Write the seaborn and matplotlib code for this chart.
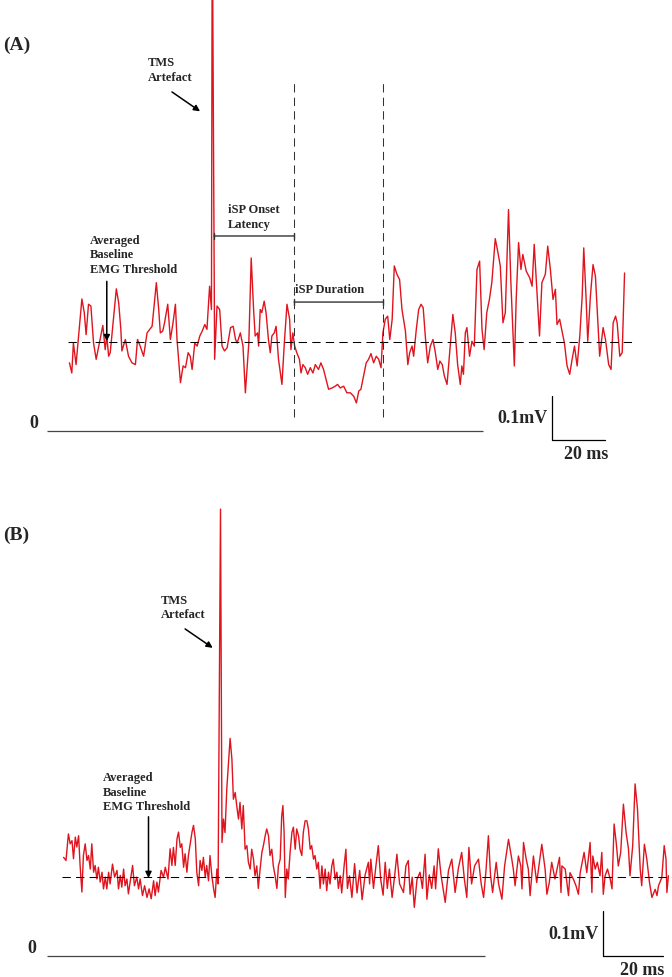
import numpy as np
import pandas as pd
import seaborn as sns
import matplotlib.pyplot as plt

# ---- Panel A: EMG trace vertices (time from TMS pulse in ms, amplitude in uV) ----
a_time = [-54.2, -53.3, -52.7, -51.7, -49.5, -48.6, -47.9, -47.0, -46.1, -45.1,
          -44.1, -41.6, -40.7, -40.1, -39.4, -38.8, -36.5, -35.6, -34.8, -34.4,
          -33.1, -31.9, -30.6, -29.3, -28.5, -27.5, -26.2, -24.9, -23.0, -21.4,
          -20.5, -19.9, -19.0, -18.3, -17.1, -16.1, -15.1, -14.2, -13.6, -12.3,
          -11.3, -10.4, -9.4, -8.6, -7.9, -6.9, -6.0, -5.0, -4.1, -3.1,
          -2.3, -1.3, -0.6, -0.3, 0.6, 1.5, 2.5, 3.4, 4.3, 5.3,
          6.6, 7.6, 8.5, 9.1, 10.3, 11.3, 12.2, 13.5, 14.4, 15.3,
          15.9, 16.8, 17.2, 17.8, 18.4, 19.3, 20.0, 20.9, 21.6, 22.2,
          23.1, 23.8, 24.7, 26.0, 26.9, 27.9, 28.9, 29.4, 30.1, 30.8,
          31.6, 32.6, 33.2, 33.9, 34.8, 35.7, 36.7, 37.7, 38.6, 39.8,
          40.7, 41.7, 43.6, 44.9, 46.1, 47.0, 48.0, 49.3, 50.5, 51.8,
          53.1, 54.1, 55.0, 55.8, 56.8, 57.8, 58.7, 59.6, 60.6, 61.6,
          62.5, 63.4, 64.1, 65.0, 65.9, 66.7, 67.6, 68.4, 69.4, 70.4,
          71.3, 72.6, 73.5, 74.2, 75.1, 75.7, 76.7, 77.6, 78.5, 79.3,
          80.2, 81.0, 82.0, 83.0, 83.9, 84.8, 85.6, 86.5, 87.3, 88.3,
          89.2, 90.5, 91.4, 92.3, 93.3, 93.9, 94.5, 95.2, 95.8, 96.8,
          97.7, 98.6, 99.6, 100.6, 101.5, 102.3, 103.3, 104.3, 105.2, 106.5,
          107.4, 108.4, 109.4, 110.3, 111.5, 112.4, 113.7, 114.4, 115.3, 116.2,
          116.9, 118.2, 119.5, 120.4, 121.2, 122.2, 123.2, 124.1, 125.4, 126.3,
          127.3, 128.3, 129.2, 129.8, 130.8, 131.7, 132.6, 133.6, 134.6, 135.5,
          136.4, 137.4, 138.4, 139.3, 139.9, 140.8, 141.4, 142.4, 143.4, 144.3,
          144.9, 145.9, 147.2, 148.1, 149.3, 150.2, 151.0, 151.9, 152.5, 153.5,
          154.4, 155.3]
a_amp = [155, 132, 200, 151, 300, 269, 219, 288, 284, 200,
         163, 240, 185, 216, 170, 178, 323, 291, 231, 182,
         208, 170, 155, 151, 208, 193, 170, 223, 238, 337,
         276, 223, 227, 246, 288, 208, 246, 288, 208, 110,
         148, 144, 178, 170, 140, 200, 193, 216, 227, 242,
         231, 329, 276, 1200, 163, 284, 276, 193, 182, 189,
         235, 238, 208, 200, 223, 193, 87, 200, 393, 276,
         216, 223, 193, 276, 269, 295, 269, 208, 178, 216,
         223, 238, 163, 106, 200, 288, 254, 185, 223, 193,
         178, 163, 132, 151, 144, 129, 144, 132, 151, 140,
         155, 140, 95, 98, 102, 106, 98, 102, 87, 87,
         79, 64, 91, 95, 125, 155, 163, 176, 155, 170,
         163, 144, 223, 254, 261, 208, 254, 375, 356, 344,
         276, 227, 151, 178, 193, 170, 231, 276, 288, 280,
         208, 155, 193, 208, 178, 140, 159, 151, 125, 106,
         170, 265, 223, 151, 106, 148, 129, 223, 235, 170,
         204, 193, 367, 386, 231, 185, 269, 299, 337, 437,
         409, 375, 246, 269, 503, 337, 148, 299, 428, 367,
         401, 363, 348, 329, 424, 322, 216, 337, 356, 420,
         367, 299, 322, 242, 254, 227, 200, 148, 129, 163,
         193, 148, 216, 306, 416, 299, 204, 306, 378, 352,
         284, 170, 235, 208, 151, 140, 246, 261, 246, 170,
         178, 359]
a_baseline = 202          # averaged baseline EMG threshold, uV
a_isp_onset = 30.6        # ms after TMS
a_isp_end = 64.2

# ---- Panel B ----
b_time = [-51.5, -50.7, -49.9, -49.3, -48.7, -48.2, -47.6, -47.1, -46.5, -46.0,
          -45.4, -44.9, -44.3, -43.7, -43.2, -42.6, -42.1, -41.5, -41.0, -40.4,
          -39.9, -39.3, -38.7, -38.2, -37.6, -37.1, -36.5, -36.0, -35.2, -34.5,
          -33.7, -33.2, -32.6, -32.1, -31.5, -31.0, -30.4, -29.9, -29.0, -28.5,
          -27.9, -27.1, -26.5, -26.0, -25.2, -24.5, -23.7, -23.0, -22.3, -21.5,
          -21.0, -20.4, -19.9, -19.0, -18.2, -17.6, -16.7, -16.0, -15.4, -14.9,
          -14.3, -13.7, -13.2, -12.6, -12.1, -11.5, -11.0, -10.4, -9.9, -9.3,
          -8.7, -8.2, -7.6, -7.1, -6.5, -6.0, -5.4, -4.9, -4.3, -3.8,
          -3.2, -2.7, -2.1, -1.5, -1.0, -0.4, 0.0, 0.8, 1.3, 1.8,
          2.3, 2.9, 3.4, 4.0, 4.6, 5.1, 5.7, 6.2, 6.8, 7.3,
          7.9, 8.4, 9.0, 9.6, 10.1, 10.7, 11.2, 11.8, 12.3, 12.9,
          13.4, 14.0, 14.6, 15.1, 15.7, 16.2, 16.8, 17.3, 17.9, 18.4,
          19.0, 19.6, 20.1, 20.7, 21.2, 21.6, 22.0, 22.4, 22.9, 23.4,
          24.0, 24.6, 25.1, 25.7, 26.2, 26.8, 27.3, 27.9, 28.4, 29.0,
          29.6, 30.1, 30.7, 31.2, 31.8, 32.3, 32.9, 33.4, 34.0, 34.6,
          35.1, 35.7, 36.2, 36.8, 37.3, 37.9, 38.4, 39.0, 39.6, 40.1,
          40.7, 41.2, 42.0, 42.6, 43.1, 43.8, 44.6, 45.5, 46.3, 47.2,
          48.0, 49.0, 50.1, 50.5, 50.9, 51.8, 52.6, 53.4, 54.2, 55.0,
          55.7, 56.4, 57.1, 58.0, 58.8, 59.6, 60.5, 61.8, 62.6, 63.4,
          64.0, 64.7, 65.4, 66.3, 67.3, 68.1, 69.0, 69.6, 70.4, 71.2,
          72.0, 72.5, 73.4, 74.3, 75.7, 76.8, 77.9, 79.0, 80.1, 81.2,
          82.1, 82.9, 83.6, 84.5, 85.5, 86.8, 87.7, 88.5, 89.3, 90.1,
          90.8, 91.5, 92.7, 93.5, 94.6, 95.5, 96.8, 97.9, 98.4, 99.0,
          100.1, 100.9, 101.3, 101.8, 102.7, 103.4, 104.0, 105.1, 106.2, 107.9,
          109.0, 109.6, 110.4, 111.2, 112.3, 113.8, 114.3, 114.6, 115.7, 116.8,
          117.3, 118.4, 119.3, 120.1, 120.7, 122.0, 122.9, 124.0, 124.6, 124.9,
          125.7, 126.4, 127.3, 127.9, 128.4, 129.0, 129.8, 130.7, 131.3, 132.0,
          132.7, 133.4, 134.2, 135.1, 136.0, 136.8, 137.3, 138.2, 139.0, 139.8,
          140.7, 141.2, 142.1, 142.9, 143.8, 144.6, 145.7, 146.3, 146.8, 147.9,
          148.7, 149.3, 149.6, 150.1]
b_amp = [219, 212, 271, 249, 256, 216, 264, 242, 267, 201,
         142, 223, 249, 212, 223, 193, 249, 186, 201, 171,
         197, 164, 186, 149, 175, 149, 186, 160, 204, 175,
         190, 149, 179, 153, 193, 156, 171, 138, 179, 201,
         156, 175, 149, 171, 134, 156, 130, 149, 127, 167,
         134, 164, 142, 190, 175, 197, 171, 238, 201, 241,
         201, 260, 275, 241, 249, 197, 227, 186, 223, 249,
         275, 290, 260, 186, 156, 212, 190, 219, 175, 201,
         167, 223, 179, 149, 130, 193, 160, 992, 252, 304,
         274, 371, 422, 483, 437, 348, 363, 334, 304, 341,
         282, 334, 237, 245, 208, 193, 237, 215, 178, 200,
         150, 193, 230, 245, 267, 282, 267, 223, 237, 200,
         178, 150, 200, 215, 311, 334, 274, 130, 193, 171,
         230, 274, 286, 237, 282, 267, 237, 223, 274, 300,
         300, 282, 237, 245, 215, 223, 193, 208, 150, 200,
         160, 193, 145, 186, 160, 200, 215, 170, 186, 150,
         178, 140, 200, 237, 150, 178, 130, 205, 140, 190,
         125, 180, 208, 160, 215, 150, 200, 245, 170, 135,
         208, 150, 193, 130, 175, 226, 160, 141, 200, 212,
         137, 175, 108, 170, 186, 150, 226, 126, 180, 150,
         200, 149, 238, 180, 119, 190, 215, 141, 195, 230,
         170, 130, 241, 160, 200, 215, 160, 130, 190, 267,
         180, 141, 208, 160, 126, 200, 259, 215, 193, 156,
         222, 200, 149, 252, 215, 193, 134, 222, 163, 248,
         193, 137, 163, 208, 171, 219, 141, 200, 193, 134,
         185, 171, 156, 137, 185, 230, 185, 252, 141, 222,
         193, 208, 178, 230, 137, 178, 193, 171, 149, 293,
         252, 200, 230, 337, 274, 237, 178, 245, 382, 326,
         193, 156, 248, 215, 163, 130, 148, 134, 156, 174,
         245, 215, 141, 178]
b_baseline = 175

trace_a = pd.DataFrame({"time": a_time, "amp": a_amp})
trace_b = pd.DataFrame({"time": b_time, "amp": b_amp})

sns.set_theme(style="white")
plt.rcParams["font.family"] = ["Liberation Serif", "DejaVu Serif"]
plt.rcParams["font.weight"] = "bold"

RED = "#e0141e"
DASH = (0, (8, 5))
fs = 9
LS = 1.3

fig = plt.figure(figsize=(6.72, 9.78), dpi=100)
axA = fig.add_axes([0, 1 - 470 / 978, 1, 470 / 978])
axB = fig.add_axes([0, 0, 1, 508 / 978])


def draw_panel(ax, df, base, base_span, zero_span, bar_x, bar_y):
    sns.lineplot(data=df, x="time", y="amp", ax=ax, color=RED, lw=1.0,
                 estimator=None, sort=False)
    ax.hlines(base, *base_span, colors="black", linestyles=DASH, lw=0.75)
    ax.hlines(0, *zero_span, colors="#444444", lw=0.9)
    # scale bar: 0.1 mV x 20 ms
    ax.plot([bar_x, bar_x, bar_x + 20], [bar_y + 100, bar_y, bar_y],
            color="black", lw=0.9)
    ax.text(bar_x - 1.5, bar_y + 50, "0.1mV", ha="right", va="center", fontsize=13)
    ax.text(bar_x + 13, bar_y - 12, "20 ms", ha="center", va="top", fontsize=13)
    ax.text(zero_span[0] - 3.5, 0, "0", ha="right", va="bottom", fontsize=13)
    ax.set_xlabel("")
    ax.set_ylabel("")
    ax.axis("off")


arrow = dict(arrowstyle="-|>", color="black", lw=1.1, mutation_scale=9,
             shrinkA=0, shrinkB=0)
bracket = dict(arrowstyle="|-|, widthA=0.2, widthB=0.2", color="#333333",
               lw=1, shrinkA=0, shrinkB=0)

# Panel A
axA.set_xlim(-80.4, 173.2)
axA.set_ylim(-86, 981)
draw_panel(axA, trace_a, a_baseline, (-54.7, 159.6), (-62.6, 101.9), 127.9, -20)
axA.text(-79.2, 878, "(A)", ha="left", va="center", fontsize=14)
axA.vlines([a_isp_onset, a_isp_end], 32, 795, colors="#333333", linestyles=DASH, lw=0.75)
axA.text(-24.5, 852, "TMS\nArtefact", ha="left", va="top", fontsize=fs, linespacing=LS)
axA.annotate("", xy=(-4.9, 726), xytext=(-15.5, 770), arrowprops=arrow)
axA.text(5.7, 518, "iSP Onset\nLatency", ha="left", va="top", fontsize=fs, linespacing=LS)
axA.annotate("", xy=(a_isp_onset, 443), xytext=(0.4, 443), arrowprops=bracket)
axA.text(30.9, 337, "iSP Duration", ha="left", va="top", fontsize=fs)
axA.annotate("", xy=(a_isp_end, 293), xytext=(a_isp_onset, 293), arrowprops=bracket)
axA.text(-46.4, 448, "Averaged\nBaseline\nEMG Threshold", ha="left", va="top",
         fontsize=fs, linespacing=LS)
axA.annotate("", xy=(-40.1, 204), xytext=(-40.1, 340), arrowprops=arrow)

# Panel B
axB.set_xlim(-72.7, 151.3)
axB.set_ylim(-46.6, 1081)
draw_panel(axB, trace_b, b_baseline, (-52.0, 151.3), (-57.0, 89.0), 128.3, 0)
axB.text(-71.7, 937, "(B)", ha="left", va="center", fontsize=14)
axB.text(-19.0, 804, "TMS\nArtefact", ha="left", va="top", fontsize=fs, linespacing=LS)
axB.annotate("", xy=(-1.8, 684), xytext=(-11.0, 726), arrowprops=arrow)
axB.text(-38.3, 411, "Averaged\nBaseline\nEMG Threshold", ha="left", va="top",
         fontsize=fs, linespacing=LS)
axB.annotate("", xy=(-23.2, 173), xytext=(-23.2, 309), arrowprops=arrow)

fig.savefig("out.png", dpi=100)
